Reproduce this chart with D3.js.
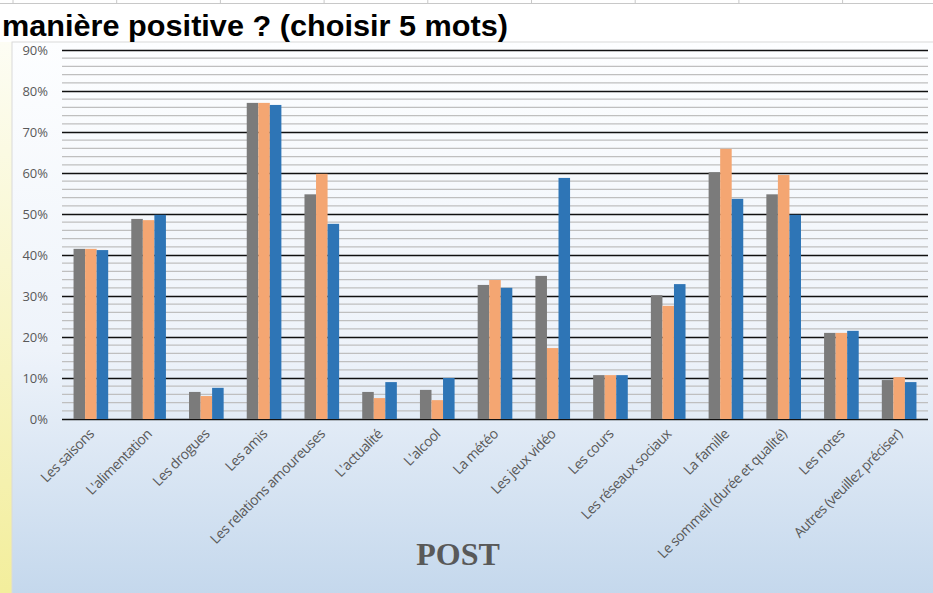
<!DOCTYPE html>
<html><head><meta charset="utf-8">
<script src="https://cdn.jsdelivr.net/npm/d3@7"></script>
<style>html,body{margin:0;padding:0;background:#fff;overflow:hidden}</style>
</head><body>
<svg id="c" width="933" height="593"></svg>
<script>
const categories = ["Les saisons","L'alimentation","Les drogues","Les amis","Les relations amoureuses","L'actualité","L'alcool","La météo","Les jeux vidéo","Les cours","Les réseaux sociaux","La famille","Le sommeil (durée et qualité)","Les notes","Autres (veuillez préciser)"];
const seriesNames = ["S1","S2","S3"];
const series1 = [41.5,48.8,6.6,77.1,54.8,6.6,7.1,32.7,34.9,10.7,30.2,60.2,54.8,21.0,9.5];
const series2 = [41.5,48.5,5.6,77.1,59.8,5.1,4.6,33.9,17.3,10.7,27.6,65.9,59.5,21.0,10.2];
const series3 = [41.2,49.8,7.6,76.6,47.6,9.0,10.0,32.0,58.8,10.7,32.9,53.7,49.8,21.5,9.0];
const yTicks = [0,10,20,30,40,50,60,70,80,90];
const titleText = "manière positive ? (choisir 5 mots)";
const axisTitle = "POST";
const colors = ["#7b7b7b","#f4a672","#2e75b6"];

const svg = d3.select("#c");
const defs = svg.append("defs");
const bg = defs.append("linearGradient").attr("id","bg").attr("x1",0).attr("y1",0).attr("x2",0).attr("y2",1);
bg.append("stop").attr("offset","0%").attr("stop-color","#fdfeff");
bg.append("stop").attr("offset","55%").attr("stop-color","#eef3fa");
bg.append("stop").attr("offset","100%").attr("stop-color","#c3d7ec");
const yl = defs.append("linearGradient").attr("id","yl").attr("x1",0).attr("y1",0).attr("x2",0).attr("y2",1);
yl.append("stop").attr("offset","0%").attr("stop-color","#fdfdf4");
yl.append("stop").attr("offset","100%").attr("stop-color","#f3ee9c");

svg.append("rect").attr("x",0).attr("y",0).attr("width",933).attr("height",593).attr("fill","#fff");
svg.append("line").attr("x1",0).attr("x2",933).attr("y1",3.5).attr("y2",3.5).attr("stroke","#c8c8c8");
d3.range(13,933,103.7).forEach(x=>{
  svg.append("line").attr("x1",x).attr("x2",x).attr("y1",0).attr("y2",4).attr("stroke","#c8c8c8");
});
svg.append("rect").attr("x",0).attr("y",42).attr("width",12).attr("height",551).attr("fill","url(#yl)");
svg.append("rect").attr("x",12).attr("y",42).attr("width",925).attr("height",560).attr("fill","url(#bg)").attr("stroke","#d9d9d9");

svg.append("text").attr("x",2).attr("y",36).attr("font-family","Liberation Sans, Arial, sans-serif")
  .attr("font-weight","bold").attr("font-size",30).attr("textLength",506).attr("lengthAdjust","spacingAndGlyphs")
  .attr("fill","#000").text(titleText);

const x0 = d3.scaleBand().domain(categories).range([62,928]).paddingInner(0.4).paddingOuter(0.2);
const x1 = d3.scaleBand().domain(seriesNames).range([0,x0.bandwidth()]);
const y = d3.scaleLinear().domain([0,90]).range([419,50]);

const g = svg.append("g");
d3.range(2,90,2).filter(v=>v%10!==0).forEach(v=>{
  g.append("line").attr("x1",62).attr("x2",928).attr("y1",y(v)).attr("y2",y(v)).attr("stroke","#bfbfbf").attr("stroke-width",1.2);
});
const yAxis = d3.axisLeft(y).tickValues(yTicks).tickFormat(d=>d+"%").tickSize(-(928-62)).tickPadding(14);
const ya = svg.append("g").attr("transform","translate(62,0)").call(yAxis);
ya.select(".domain").remove();
ya.selectAll(".tick line").attr("stroke","#111").attr("stroke-width",1.3);
ya.selectAll(".tick text").attr("fill","#595959").attr("font-family","Open Sans, Noto Sans, sans-serif").attr("font-size",13);

const data = [series1,series2,series3];
categories.forEach((c,i)=>{
  data.forEach((s,j)=>{
    svg.append("rect").attr("x",x0(c)+x1(seriesNames[j])).attr("y",y(s[i]))
      .attr("width",x1.bandwidth()).attr("height",y(0)-y(s[i])).attr("fill",colors[j]);
  });
});

const xa = svg.append("g").attr("transform","translate(0,419)").call(d3.axisBottom(x0).tickSize(0).tickPadding(0));
xa.select(".domain").remove();
xa.selectAll(".tick text").attr("text-anchor","end").attr("dy",0).attr("y",0)
  .attr("transform","translate(4,16) rotate(-45)")
  .attr("fill","#595959").attr("font-family","Open Sans, Noto Sans, sans-serif").attr("font-size",14).attr("letter-spacing",-0.5);

svg.append("text").attr("x",458).attr("y",565).attr("text-anchor","middle")
  .attr("font-family","Liberation Serif, Times New Roman, serif").attr("font-weight","bold")
  .attr("font-size",32).attr("fill","#595959").text(axisTitle);
</script>
</body></html>
